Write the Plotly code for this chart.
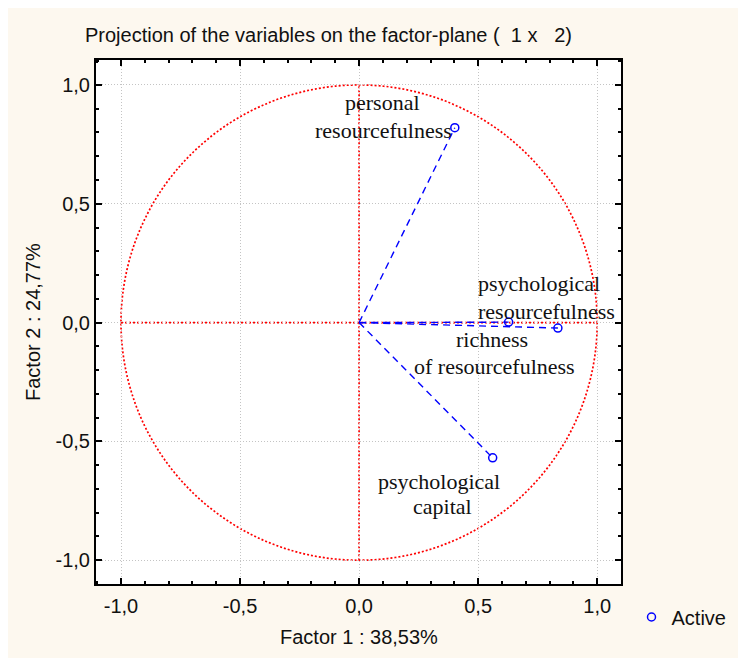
import plotly.graph_objects as go

# ---- data ----
variables = ["personal resourcefulness", "psychological resourcefulness",
             "richness of resourcefulness", "psychological capital"]
factor1 = [0.402, 0.628, 0.835, 0.561]
factor2 = [0.820, 0.002, -0.023, -0.569]
label_lines = [["personal", "resourcefulness"],
               ["psychological", "resourcefulness"],
               ["richness", "of resourcefulness"],
               ["psychological", "capital"]]
tick_vals = [-1.0, -0.5, 0.0, 0.5, 1.0]
tick_text = ["-1,0", "-0,5", "0,0", "0,5", "1,0"]
series_name = "Active"
title_text = "Projection of the variables on the factor-plane (\u00a0 1 x \u00a0 2)"
x_title = "Factor 1 : 38,53%"
y_title = "Factor 2 : 24,77%"
RADIUS = 1.0

# ---- styles (pixel offsets for labels) ----
label_offsets = [
    [(-72, 25, "center"), (-71, -3, "center")],
    [(-33, 39, "left"), (-33, 11, "left")],
    [(-66, -11, "center"), (-63, -38, "center")],
    [(-54, -24, "center"), (-50, -49, "center")],
]

BLUE = "#0000ff"
RED = "#ff0000"
BG = "#fdf8ef"
SANS = "Liberation Sans, Arial, sans-serif"
SERIF = "Liberation Serif, Times New Roman, serif"
TXT = 20

fig = go.Figure()

for fx, fy in zip(factor1, factor2):
    fig.add_trace(go.Scatter(x=[0, fx], y=[0, fy], mode="lines",
                             line=dict(color=BLUE, width=1.4, dash="7px,5px"),
                             showlegend=False, hoverinfo="skip"))

fig.add_trace(go.Scatter(x=factor1, y=factor2, mode="markers", name=series_name,
                         text=variables,
                         marker=dict(symbol="circle-open", size=8, color=BLUE,
                                     line=dict(width=1.5, color=BLUE))))

shapes = [
    dict(type="circle", xref="x", yref="y", x0=-RADIUS, y0=-RADIUS, x1=RADIUS, y1=RADIUS,
         line=dict(color=RED, width=1.7, dash="2px,2px"), layer="below"),
    dict(type="line", xref="x", yref="y", x0=0, x1=0, y0=-RADIUS, y1=RADIUS,
         line=dict(color=RED, width=1.7, dash="2px,2px"), layer="below"),
    dict(type="line", xref="x", yref="y", x0=-RADIUS, x1=RADIUS, y0=0, y1=0,
         line=dict(color=RED, width=1.7, dash="2px,2px"), layer="below"),
]

annotations = []
for fx, fy, lines, offs in zip(factor1, factor2, label_lines, label_offsets):
    for line, (dx, dy, anchor) in zip(lines, offs):
        annotations.append(dict(x=fx, y=fy, xref="x", yref="y", text=line,
                                showarrow=False, xanchor=anchor, yanchor="middle",
                                xshift=dx, yshift=dy,
                                font=dict(family=SERIF, size=22, color="#111111")))

annotations += [
    dict(text=title_text, xref="paper", yref="paper", x=-0.025, y=1.0, yshift=25,
         xanchor="left", yanchor="middle", showarrow=False,
         font=dict(family=SANS, size=TXT, color="#111111")),
    dict(text=x_title, xref="paper", yref="paper", x=0.5, y=0, yshift=-53,
         xanchor="center", yanchor="middle", showarrow=False,
         font=dict(family=SANS, size=TXT, color="#111111")),
    dict(text=y_title, xref="paper", yref="paper", x=0, y=0.5, xshift=-63,
         xanchor="center", yanchor="middle", showarrow=False, textangle=-90,
         font=dict(family=SANS, size=TXT, color="#111111")),
]

axis_common = dict(
    tickmode="array", tickvals=tick_vals, ticktext=tick_text,
    ticks="inside", ticklen=6, tickwidth=2, tickcolor="#000000",
    showline=True, linecolor="#000000", linewidth=2, mirror="ticks",
    showgrid=True, gridcolor="#c4c4c4", gridwidth=1, griddash="1px,2px",
    zeroline=False, automargin=False,
    minor=dict(tickmode="linear", tick0=0, dtick=0.1, ticks="inside", ticklen=3,
               tickwidth=2, tickcolor="#000000", showgrid=False),
    tickfont=dict(family=SANS, size=TXT, color="#111111"),
)

fig.update_layout(
    width=738, height=650,
    margin=dict(l=88, r=125, t=52, b=74, autoexpand=False),
    paper_bgcolor=BG, plot_bgcolor="#ffffff",
    shapes=shapes, annotations=annotations,
    xaxis=dict(range=[-1.105, 1.1], ticklabelstandoff=3, **axis_common),
    yaxis=dict(range=[-1.1, 1.105], ticklabelstandoff=0, **axis_common),
    showlegend=True,
    legend=dict(x=1.020, y=-0.063, xanchor="left", yanchor="middle",
                bgcolor="rgba(0,0,0,0)", font=dict(family=SANS, size=TXT, color="#111111")),
)

fig.write_html("out.html")
